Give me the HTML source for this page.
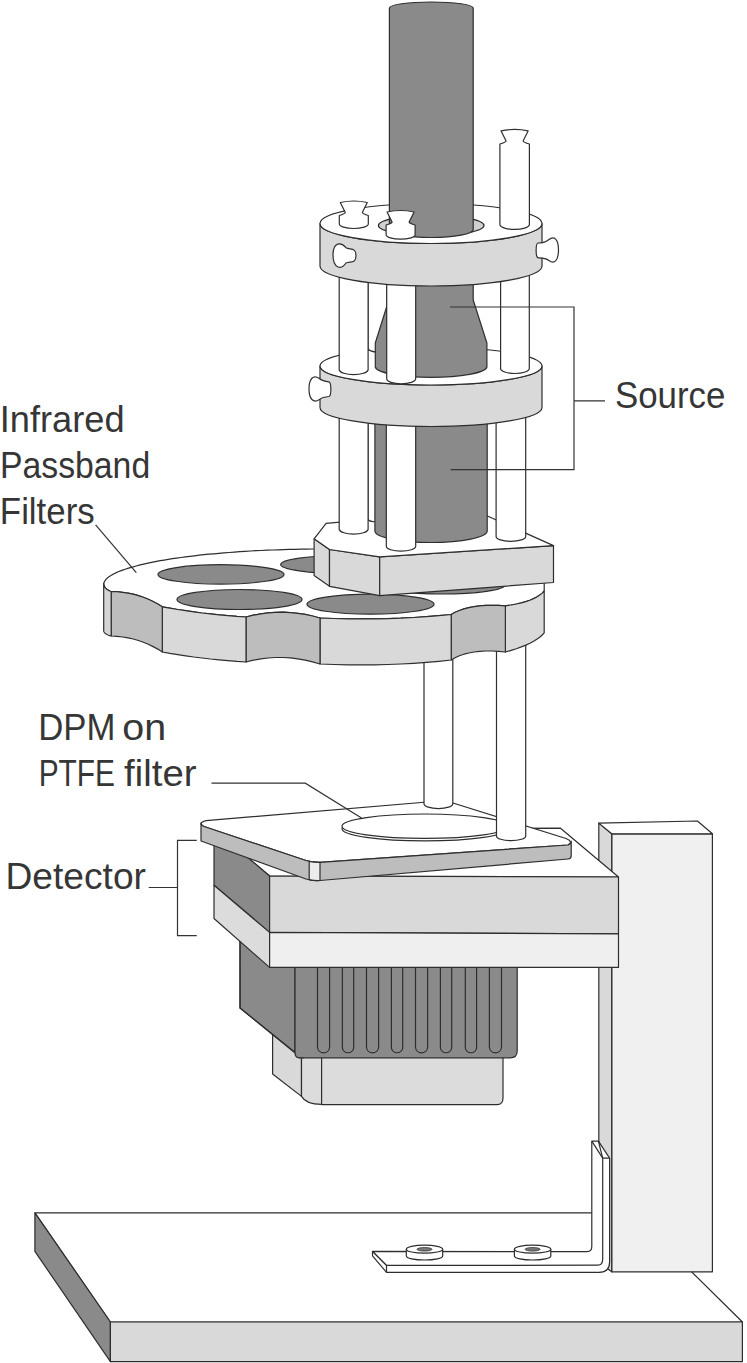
<!DOCTYPE html>
<html><head><meta charset="utf-8"><style>
html,body{margin:0;padding:0;background:#fff;width:747px;height:1363px;overflow:hidden}
svg{display:block}
text{font-family:"Liberation Sans",sans-serif;font-size:36.5px;fill:#363636}
</style></head><body>
<svg width="747" height="1363" viewBox="0 0 747 1363">
<rect width="747" height="1363" fill="#fff"/>
<polygon points="34.9,1212.9 632,1212.9 742.4,1322 110.4,1322" fill="#fff" stroke="#2e2e2e" stroke-width="1.2" stroke-linejoin="round"/>
<polygon points="34.9,1212.9 110.4,1322 110.4,1361.6 34.9,1251.4" fill="#8a8a8a" stroke="#2e2e2e" stroke-width="1.2" stroke-linejoin="round"/>
<polygon points="110.4,1322 742.4,1322 742.4,1361.6 110.4,1361.6" fill="#d9d9d9" stroke="#2e2e2e" stroke-width="1.2" stroke-linejoin="round"/>
<polygon points="611.7,833.8 712.4,833.8 712.4,1271.8 611.7,1271.8" fill="#f0f0f0" stroke="#2e2e2e" stroke-width="1.2" stroke-linejoin="round"/>
<polygon points="598.8,823.1 611.7,833.8 611.7,1271.8 598.8,1262" fill="#d9d9d9" stroke="#2e2e2e" stroke-width="1.2" stroke-linejoin="round"/>
<polygon points="598.8,823.1 697.4,821 712.4,833.8 611.7,833.8" fill="#fff" stroke="#2e2e2e" stroke-width="1.2" stroke-linejoin="round"/>
<path d="M372.5,1251.4 L587,1251.6 Q591.8,1251.6 591.8,1246.5 L591.8,1141.2 L598.4,1141.2 L609.6,1158.1 L609.6,1262 Q609.6,1272.4 599,1272.4 L386.5,1272.3 L386.5,1265.4 Z" fill="#fff" stroke="#2e2e2e" stroke-width="1.2" stroke-linejoin="round"/>
<path d="M372.5,1251.4 L386.5,1265.4 L598,1265.2 Q602.7,1265.2 602.7,1259 L602.7,1158.1 L609.6,1158.1" fill="none" stroke="#2e2e2e" stroke-width="1.2" stroke-linejoin="round"/>
<path d="M372.5,1251.4 L372.5,1255.8 L386.5,1272.3" fill="none" stroke="#2e2e2e" stroke-width="1.2" stroke-linejoin="round"/>
<path d="M598.4,1141.2 L602.7,1158.1" fill="none" stroke="#2e2e2e" stroke-width="1.2" stroke-linejoin="round"/>
<path d="M591.8,1141.2 L602.7,1158.1" fill="none" stroke="#2e2e2e" stroke-width="1.2" stroke-linejoin="round"/>
<path d="M406.3,1249.2 L406.3,1256 A18.2 4 0 0 0 442.7,1256 L442.7,1249.2" fill="#fff" stroke="#2e2e2e" stroke-width="1.2" stroke-linejoin="round"/>
<ellipse cx="424.5" cy="1249.2" rx="18.2" ry="4" fill="#fff" stroke="#2e2e2e" stroke-width="1.2" stroke-linejoin="round"/>
<ellipse cx="424.5" cy="1249.3" rx="7.5" ry="1.8" fill="#777" stroke="#333" stroke-width="0.8"/>
<path d="M514.4,1249.2 L514.4,1256 A18.2 4 0 0 0 550.8,1256 L550.8,1249.2" fill="#fff" stroke="#2e2e2e" stroke-width="1.2" stroke-linejoin="round"/>
<ellipse cx="532.6" cy="1249.2" rx="18.2" ry="4" fill="#fff" stroke="#2e2e2e" stroke-width="1.2" stroke-linejoin="round"/>
<ellipse cx="532.6" cy="1249.3" rx="7.5" ry="1.8" fill="#777" stroke="#333" stroke-width="0.8"/>
<path d="M272.6,1030 L272.6,1074 L301.5,1096.4 L301.5,1050 Z" fill="#d9d9d9" stroke="#2e2e2e" stroke-width="1.2" stroke-linejoin="round"/>
<path d="M301.5,1050 L301.5,1096.4 Q306,1104.4 321.6,1104.4 L321.6,1050 Z" fill="#dcdcdc" stroke="#2e2e2e" stroke-width="1.2" stroke-linejoin="round"/>
<path d="M321.6,1050 L503,1050 L503,1098 Q503,1104.6 497,1104.6 L321.6,1104.6 Z" fill="#dcdcdc" stroke="#2e2e2e" stroke-width="1.2" stroke-linejoin="round"/>
<path d="M240,935 L295,962 L295,1052 Q297,1057.8 301,1057.8 L240,1008 Z" fill="#8a8a8a" stroke="#2e2e2e" stroke-width="1.2" stroke-linejoin="round"/>
<path d="M240,935 L240,1008 L297,1054 Q299,1057.8 304,1057.8" fill="none" stroke="#2e2e2e" stroke-width="1.2" stroke-linejoin="round"/>
<path d="M295,962 L517.2,962 L517.2,1051 Q517.2,1057.8 510,1057.8 L299,1057.8 Q295,1057.8 295,1052 Z" fill="#8a8a8a" stroke="#2e2e2e" stroke-width="1.2" stroke-linejoin="round"/>
<path d="M317.5,962 L317.5,1047.5 A6.1 6.1 0 0 0 329.6,1047.5 L329.6,962" fill="none" stroke="#2e2e2e" stroke-width="1.2" stroke-linejoin="round"/>
<path d="M342.4,962 L342.4,1047.8 A5.7 5.7 0 0 0 353.7,1047.8 L353.7,962" fill="none" stroke="#2e2e2e" stroke-width="1.2" stroke-linejoin="round"/>
<path d="M366.5,962 L366.5,1047.5 A6.1 6.1 0 0 0 378.6,1047.5 L378.6,962" fill="none" stroke="#2e2e2e" stroke-width="1.2" stroke-linejoin="round"/>
<path d="M391.4,962 L391.4,1047.8 A5.7 5.7 0 0 0 402.7,1047.8 L402.7,962" fill="none" stroke="#2e2e2e" stroke-width="1.2" stroke-linejoin="round"/>
<path d="M415.5,962 L415.5,1047.5 A6.1 6.1 0 0 0 427.6,1047.5 L427.6,962" fill="none" stroke="#2e2e2e" stroke-width="1.2" stroke-linejoin="round"/>
<path d="M440.4,962 L440.4,1047.8 A5.7 5.7 0 0 0 451.7,1047.8 L451.7,962" fill="none" stroke="#2e2e2e" stroke-width="1.2" stroke-linejoin="round"/>
<path d="M465.3,962 L465.3,1047.8 A5.7 5.7 0 0 0 476.6,1047.8 L476.6,962" fill="none" stroke="#2e2e2e" stroke-width="1.2" stroke-linejoin="round"/>
<path d="M489.4,962 L489.4,1047.5 A6.1 6.1 0 0 0 501.5,1047.5 L501.5,962" fill="none" stroke="#2e2e2e" stroke-width="1.2" stroke-linejoin="round"/>
<polygon points="214,829 560.5,828.2 618.5,877 269.6,876" fill="#fff" stroke="#2e2e2e" stroke-width="1.2" stroke-linejoin="round"/>
<polygon points="214,829 269.6,876 269.6,932.4 214,885.3" fill="#8a8a8a" stroke="#2e2e2e" stroke-width="1.2" stroke-linejoin="round"/>
<polygon points="214,885.3 269.6,932.4 269.6,967.4 214,918.5" fill="#dcdcdc" stroke="#2e2e2e" stroke-width="1.2" stroke-linejoin="round"/>
<polygon points="269.6,876 618.5,877 618.5,933.9 269.6,932.4" fill="#d9d9d9" stroke="#2e2e2e" stroke-width="1.2" stroke-linejoin="round"/>
<polygon points="269.6,932.4 618.5,933.9 618.5,967.4 269.6,967.4" fill="#efefef" stroke="#2e2e2e" stroke-width="1.2" stroke-linejoin="round"/>
<path d="M206,820.6 L445,800.5 L566,838.5 Q574,842 568,845 L320,862.3 Q312,862.5 306,860.5 L204,826.5 Q197,823 206,820.6 Z" fill="#fff" stroke="#2e2e2e" stroke-width="1.2" stroke-linejoin="round"/>
<path d="M201,823.4 Q202,826 204,826.5 L306,860.5 Q312,862.5 320,862.3 L568,845 Q571.2,843.5 571.2,841 L571.2,856 Q571.2,858.8 568,859 L320,880.5 Q312,881 306,879 L201,841 Z" fill="#bdbdbd" stroke="#2e2e2e" stroke-width="1.2" stroke-linejoin="round"/>
<path d="M309.2,861.3 L309.2,879.6 Q314,880.8 320,880.5 L320,862.3 Q314,862.5 309.2,861.3 Z" fill="#ececec" stroke="#2e2e2e" stroke-width="1.2" stroke-linejoin="round"/>
<ellipse cx="425" cy="828.7" rx="83" ry="12.2" fill="#fff" stroke="#2e2e2e" stroke-width="1.2" stroke-linejoin="round"/>
<ellipse cx="425" cy="826.2" rx="83" ry="12.2" fill="#fff" stroke="#2e2e2e" stroke-width="1.2" stroke-linejoin="round"/>
<path d="M424,640 L424,803.8 A14.4 4.8 0 0 0 452.8,803.8 L452.8,640 Z" fill="#fff" stroke="#2e2e2e" stroke-width="1.2" stroke-linejoin="round"/>
<path d="M496.5,640 L496.5,835.9 A14.6 4.8 0 0 0 525.7,835.9 L525.7,640 Z" fill="#fff" stroke="#2e2e2e" stroke-width="1.2" stroke-linejoin="round"/>
<polygon points="103.7,584.5 103.8,583.6 104,582.6 104.4,581.7 104.9,580.8 105.6,579.9 106.4,578.9 107.4,578 108.5,577.1 109.8,576.2 111.2,575.3 112.8,574.4 114.5,573.5 116.3,572.6 118.3,571.8 120.5,570.9 122.7,570.1 125.2,569.2 127.7,568.4 130.4,567.6 133.2,566.8 136.2,566 139.2,565.2 142.4,564.4 145.8,563.6 149.2,562.9 152.8,562.2 156.5,561.4 160.3,560.7 164.2,560.1 168.2,559.4 172.4,558.7 176.6,558.1 180.9,557.5 185.4,556.9 189.9,556.3 194.5,555.8 199.2,555.2 204,554.7 208.9,554.2 213.8,553.8 218.9,553.3 224,552.9 229.2,552.5 234.4,552.1 239.7,551.7 245.1,551.4 250.5,551 255.9,550.7 261.4,550.5 267,550.2 272.6,550 278.2,549.8 283.9,549.6 289.5,549.4 295.2,549.3 301,549.2 306.7,549.1 312.5,549 318.2,549 324,549 329.8,549 335.5,549 341.3,549.1 347,549.2 352.8,549.3 358.5,549.4 364.1,549.6 369.8,549.8 375.4,550 381,550.2 386.6,550.5 392.1,550.7 397.5,551 402.9,551.4 408.3,551.7 413.6,552.1 418.8,552.5 424,552.9 429.1,553.3 434.1,553.8 439.1,554.2 444,554.7 448.8,555.2 453.5,555.8 458.1,556.3 462.6,556.9 467.1,557.5 471.4,558.1 475.6,558.7 479.8,559.4 483.8,560.1 487.7,560.7 491.5,561.4 495.2,562.2 498.8,562.9 502.2,563.6 505.6,564.4 508.8,565.2 511.8,566 514.8,566.8 517.6,567.6 520.3,568.4 522.8,569.2 525.3,570.1 527.5,570.9 529.7,571.8 531.7,572.6 533.5,573.5 535.2,574.4 536.8,575.3 538.2,576.2 539.5,577.1 540.6,578 541.6,578.9 542.4,579.9 543.1,580.8 543.6,581.7 544,582.6 544.2,583.6 544.2,591 544.2,591 542.2,593.1 539.7,595.1 536.8,597 533.6,598.6 529.9,600.2 525.8,601.6 521.3,602.9 516.4,604 511.1,605 505.4,605.8 505.4,605.8 498.5,605.4 491.9,605.3 485.7,605.4 479.7,605.8 474.2,606.6 468.9,607.6 464,608.9 459.4,610.5 455.1,612.3 451.2,614.5 451.2,614.5 438.9,615.7 426.4,616.7 413.7,617.5 400.8,618.2 387.8,618.6 374.6,618.9 361.2,618.9 347.6,618.8 333.9,618.5 320,618 320,618 312.6,616 305.2,614.4 297.8,613.3 290.4,612.6 283,612.2 275.6,612.4 268.2,612.9 260.8,613.8 253.4,615.2 246,617 246,617 236.9,616.4 227.9,615.6 219.1,614.8 210.5,613.9 202.1,613 193.8,611.9 185.7,610.7 177.7,609.5 169.9,608.2 162.3,606.8 162.3,606.8 157.8,604 153.1,601.5 148.3,599.2 143.4,597.2 138.4,595.6 133.2,594.2 127.9,593.1 122.5,592.3 116.9,591.7 111.2,591.5 111.2,591.5 109.8,591 108.6,590.4 107.5,589.7 106.5,589 105.7,588.2 105,587.4 104.5,586.5 104.1,585.6 103.8,584.6 103.7,583.5" fill="#fff" stroke="#2e2e2e" stroke-width="1.2" stroke-linejoin="round"/>
<ellipse cx="221" cy="574.4" rx="63" ry="9.7" fill="#8a8a8a" stroke="#2e2e2e" stroke-width="1.2" stroke-linejoin="round"/>
<ellipse cx="239.5" cy="599.5" rx="62.5" ry="10" fill="#8a8a8a" stroke="#2e2e2e" stroke-width="1.2" stroke-linejoin="round"/>
<ellipse cx="343.7" cy="564.5" rx="63" ry="9" fill="#8a8a8a" stroke="#2e2e2e" stroke-width="1.2" stroke-linejoin="round"/>
<ellipse cx="442" cy="585" rx="63" ry="9" fill="#8a8a8a" stroke="#2e2e2e" stroke-width="1.2" stroke-linejoin="round"/>
<ellipse cx="370.5" cy="604.2" rx="63.5" ry="10" fill="#8a8a8a" stroke="#2e2e2e" stroke-width="1.2" stroke-linejoin="round"/>
<polygon points="544.2,591 542.2,593.1 539.7,595.1 536.8,597 533.6,598.6 529.9,600.2 525.8,601.6 521.3,602.9 516.4,604 511.1,605 505.4,605.8 505.4,652 511.1,650.4 516.4,648.7 521.3,646.9 525.8,645.1 529.9,643.2 533.6,641.2 536.8,639.2 539.7,637.2 542.2,635 544.2,632.8" fill="#d9d9d9" stroke="#2e2e2e" stroke-width="1.2" stroke-linejoin="round"/>
<polygon points="505.4,605.8 498.5,605.4 491.9,605.3 485.7,605.4 479.7,605.8 474.2,606.6 468.9,607.6 464,608.9 459.4,610.5 455.1,612.3 451.2,614.5 451.2,660 455.1,657.8 459.4,655.8 464,654.2 468.9,653 474.1,652 479.7,651.4 485.7,651 491.9,651 498.5,651.4 505.4,652" fill="#bdbdbd" stroke="#2e2e2e" stroke-width="1.2" stroke-linejoin="round"/>
<polygon points="451.2,614.5 438.9,615.7 426.4,616.7 413.7,617.5 400.8,618.2 387.8,618.6 374.6,618.9 361.2,618.9 347.6,618.8 333.9,618.5 320,618 320,664 333.9,664.5 347.6,664.8 361.2,664.9 374.6,664.8 387.8,664.5 400.8,664 413.7,663.3 426.4,662.4 438.9,661.3 451.2,660" fill="#d9d9d9" stroke="#2e2e2e" stroke-width="1.2" stroke-linejoin="round"/>
<polygon points="320,618 312.6,616 305.2,614.4 297.8,613.3 290.4,612.6 283,612.2 275.6,612.4 268.2,612.9 260.8,613.8 253.4,615.2 246,617 246,662 253.4,660.2 260.8,658.9 268.2,658 275.6,657.5 283,657.5 290.4,657.9 297.8,658.8 305.2,660.1 312.6,661.8 320,664" fill="#bdbdbd" stroke="#2e2e2e" stroke-width="1.2" stroke-linejoin="round"/>
<polygon points="246,617 236.9,616.4 227.9,615.6 219.1,614.8 210.5,613.9 202.1,613 193.8,611.9 185.7,610.7 177.7,609.5 169.9,608.2 162.3,606.8 162.3,652 169.9,653.4 177.7,654.6 185.7,655.8 193.8,657 202.1,658 210.5,659 219.1,659.8 227.9,660.6 236.9,661.4 246,662" fill="#d9d9d9" stroke="#2e2e2e" stroke-width="1.2" stroke-linejoin="round"/>
<polygon points="162.3,606.8 157.8,604 153.1,601.5 148.3,599.2 143.4,597.2 138.4,595.6 133.2,594.2 127.9,593.1 122.5,592.3 116.9,591.7 111.2,591.5 111.2,636 116.9,636.3 122.5,637 127.9,637.9 133.2,639 138.4,640.5 143.4,642.2 148.3,644.3 153.1,646.6 157.8,649.1 162.3,652" fill="#bdbdbd" stroke="#2e2e2e" stroke-width="1.2" stroke-linejoin="round"/>
<polygon points="111.2,591.5 109.8,591 108.6,590.4 107.5,589.7 106.5,589 105.7,588.2 105,587.4 104.5,586.5 104.1,585.6 103.8,584.6 103.7,583.5 103.7,630.8 103.8,631.4 104.1,632 104.5,632.6 105,633.2 105.7,633.7 106.5,634.2 107.5,634.7 108.6,635.2 109.8,635.6 111.2,636" fill="#d4d4d4" stroke="#2e2e2e" stroke-width="1.2" stroke-linejoin="round"/>
<polygon points="314.1,538.8 329.5,549.5 329.5,586.3 314.1,575.6" fill="#d9d9d9" stroke="#2e2e2e" stroke-width="1.2" stroke-linejoin="round"/>
<polygon points="329.5,549.5 379.7,556.9 379.7,595.7 329.5,586.3" fill="#d9d9d9" stroke="#2e2e2e" stroke-width="1.2" stroke-linejoin="round"/>
<polygon points="379.7,556.9 553.5,545.6 553.5,582.5 379.7,595.7" fill="#d9d9d9" stroke="#2e2e2e" stroke-width="1.2" stroke-linejoin="round"/>
<polygon points="326.1,523.4 474,510 553.5,545.6 379.7,556.9 329.5,549.5 314.1,538.8" fill="#fff" stroke="#2e2e2e" stroke-width="1.2" stroke-linejoin="round"/>
<path d="M368,405 L368,519 A9.5 3 0 0 0 387,519 L387,405 Z" fill="#fff" stroke="#2e2e2e" stroke-width="1.2" stroke-linejoin="round"/>
<path d="M374.9,405 L374.9,531 A56.15 11.5 0 0 0 487.2,531 L487.2,405 Z" fill="#8a8a8a" stroke="#2e2e2e" stroke-width="1.2" stroke-linejoin="round"/>
<path d="M339.2,405 L339.2,529.5 A14.5 5 0 0 0 368.1,529.5 L368.1,405 Z" fill="#fff" stroke="#2e2e2e" stroke-width="1.2" stroke-linejoin="round"/>
<path d="M386.3,405 L386.3,546.2 A14.7 5 0 0 0 415.7,546.2 L415.7,405 Z" fill="#fff" stroke="#2e2e2e" stroke-width="1.2" stroke-linejoin="round"/>
<path d="M496.1,405 L496.1,536.4 A14.8 5 0 0 0 525.7,536.4 L525.7,405 Z" fill="#fff" stroke="#2e2e2e" stroke-width="1.2" stroke-linejoin="round"/>
<path d="M320,366 L320,407.5 A111 19 0 0 0 542,407.5 L542,366 A111 19 0 0 1 320,366 Z" fill="#d9d9d9" stroke="#2e2e2e" stroke-width="1.2" stroke-linejoin="round"/>
<ellipse cx="431" cy="366" rx="111" ry="19" fill="#fff" stroke="#2e2e2e" stroke-width="1.2" stroke-linejoin="round"/>
<path d="M329,381.8 C331.5,383 331.5,395.5 329,396.5 C325,396.8 322,397.3 319,399.8 C313.5,403.5 309,399 309,389 C309,378.5 313.5,374.5 319,378.3 C322,381 325,381.6 329,381.8 Z" fill="#fff" stroke="#2e2e2e" stroke-width="1.2" stroke-linejoin="round"/>
<path d="M368,262 L368,348 A9.5 4 0 0 0 387,348 L387,262 Z" fill="#fff" stroke="#2e2e2e" stroke-width="1.2" stroke-linejoin="round"/>
<path d="M388.8,262 L388.8,300 L375.3,343 L375.3,367 A55.85 10.8 0 0 0 486.9,367 L486.9,343 L473.2,300 L473.2,262 Z" fill="#8a8a8a" stroke="#2e2e2e" stroke-width="1.2" stroke-linejoin="round"/>
<path d="M339.2,262 L339.2,370 A14.5 5 0 0 0 368.1,370 L368.1,262 Z" fill="#fff" stroke="#2e2e2e" stroke-width="1.2" stroke-linejoin="round"/>
<path d="M386.7,262 L386.7,378.8 A14.5 5 0 0 0 415.7,378.8 L415.7,262 Z" fill="#fff" stroke="#2e2e2e" stroke-width="1.2" stroke-linejoin="round"/>
<path d="M500.6,262 L500.6,368.5 A14.3 5 0 0 0 529.3,368.5 L529.3,262 Z" fill="#fff" stroke="#2e2e2e" stroke-width="1.2" stroke-linejoin="round"/>
<path d="M320,223.5 L320,266 A111 20 0 0 0 542,266 L542,223.5 A111 20 0 0 1 320,223.5 Z" fill="#d9d9d9" stroke="#2e2e2e" stroke-width="1.2" stroke-linejoin="round"/>
<ellipse cx="431" cy="223.5" rx="111" ry="20" fill="#fff" stroke="#2e2e2e" stroke-width="1.2" stroke-linejoin="round"/>
<ellipse cx="431.2" cy="225.5" rx="52.8" ry="10" fill="#d0d0d0" stroke="#2e2e2e" stroke-width="1.2" stroke-linejoin="round"/>
<path d="M389.4,229.5 L389.4,8 A41.9 6 0 0 1 473.2,8 L473.2,229.5 A41.9 8 0 0 1 389.4,229.5 Z" fill="#8a8a8a" stroke="#2e2e2e" stroke-width="1.2" stroke-linejoin="round"/>
<path d="M340.3,202.5 Q353.8,199.5 367.3,202.5 L362.3,212.4 Q362.8,214 368.3,215.5 L368.3,224 A14.5 4.5 0 0 1 339.3,224 L339.3,215.5 Q344.8,214 345.3,212.4 Z" fill="#fff" stroke="#2e2e2e" stroke-width="1.2" stroke-linejoin="round"/>
<path d="M387.1,212 Q400.6,209 414.1,212 L409.1,222 Q409.6,223.5 415.1,225 L415.1,234.7 A14.5 4.5 0 0 1 386.1,234.7 L386.1,225 Q391.6,223.5 392.1,222 Z" fill="#fff" stroke="#2e2e2e" stroke-width="1.2" stroke-linejoin="round"/>
<path d="M501.1,130.9 Q514.6,127.9 528.1,130.9 L523.1,140.9 Q523.6,142.5 529.4,144 L529.4,224.8 A14.8 5 0 0 1 499.9,224.8 L499.9,144 Q505.6,142.5 506.1,140.9 Z" fill="#fff" stroke="#2e2e2e" stroke-width="1.2" stroke-linejoin="round"/>
<path d="M346,247.7 C341,241.5 333,242 333,255 C333,268 341,270.5 346,263 C350,261 356,264 356,255.5 C356,247 350,250 346,247.7 Z" fill="#fff" stroke="#2e2e2e" stroke-width="1.2" stroke-linejoin="round"/>
<path d="M538,243 C542,243 545,243 549,239.5 C554,235.5 558.5,239 558.5,250 C558.5,261 554,264.5 549,260.5 C545,257.5 542,257.8 538,257.8 C535.5,257 535.5,243.5 538,243 Z" fill="#fff" stroke="#2e2e2e" stroke-width="1.2" stroke-linejoin="round"/>
<path d="M450,307 L574,307 L574,469.6 L450.7,469.6 M574,400.8 L605,400.8" stroke="#333" stroke-width="1.2" fill="none"/>
<path d="M95.6,524.8 L136.3,572.7" stroke="#333" stroke-width="1.2" fill="none"/>
<path d="M211.5,783.2 L305.3,783.2 L361.5,818" stroke="#333" stroke-width="1.2" fill="none"/>
<path d="M196.8,840.3 L177.5,840.3 L177.5,935.7 L196.8,935.7 M148.7,887.5 L177.5,887.5" stroke="#333" stroke-width="1.2" fill="none"/>
<text x="614.89" y="407.9" textLength="110.49" lengthAdjust="spacingAndGlyphs">Source</text>
<text x="-0.28" y="431.7" textLength="124.86" lengthAdjust="spacingAndGlyphs">Infrared</text>
<text x="-0.08" y="477.5" textLength="150.25" lengthAdjust="spacingAndGlyphs">Passband</text>
<text x="-0.16" y="523.6" textLength="94.86" lengthAdjust="spacingAndGlyphs">Filters</text>
<text x="38.24" y="740.4" textLength="77.22" lengthAdjust="spacingAndGlyphs">DPM</text>
<text x="122.24" y="740.4" textLength="43.88" lengthAdjust="spacingAndGlyphs">on</text>
<text x="38.65" y="785.9" textLength="76.31" lengthAdjust="spacingAndGlyphs">PTFE</text>
<text x="124.1" y="785.9" textLength="72.52" lengthAdjust="spacingAndGlyphs">ﬁlter</text>
<text x="5.44" y="888.6" textLength="140.53" lengthAdjust="spacingAndGlyphs">Detector</text>
</svg>
</body></html>
